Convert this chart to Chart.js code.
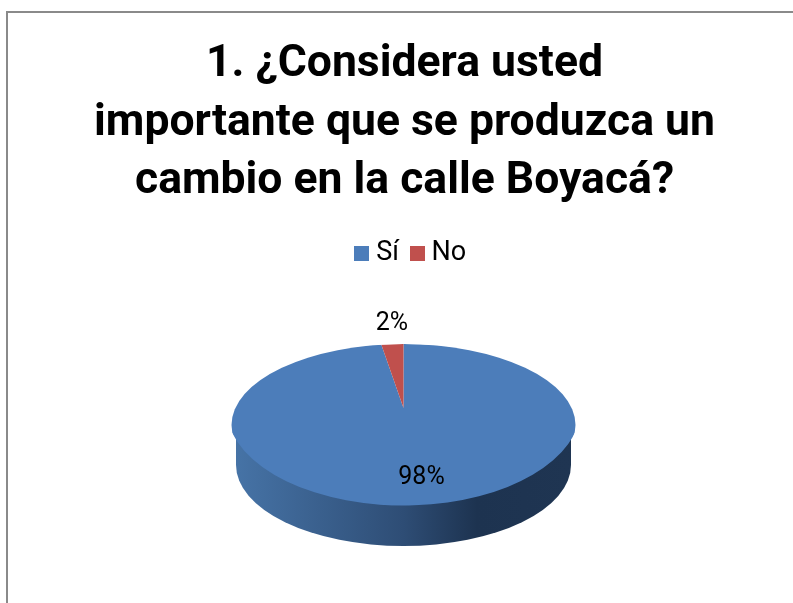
<!DOCTYPE html>
<html>
<head>
<meta charset="utf-8">
<style>
html, body { margin: 0; padding: 0; background: #fff; overflow: hidden; }
#box { position: absolute; left: 6px; top: 11px; width: 820px; height: 620px; border: 2px solid #8a8a8a; box-sizing: border-box; }
canvas { position: absolute; left: 0; top: 0; }
</style>
<script src="https://cdn.jsdelivr.net/npm/chart.js@4"></script>
</head>
<body>
<div id="box"></div>
<canvas id="pie" width="809" height="603"></canvas>
<script>
const categories = ['Sí', 'No'];
const shares = [98, 2];
const sliceColors = ['#4c7dba', '#c0504d'];
const titleLines = ['1. ¿Considera usted', 'importante que se produzca un', 'cambio en la calle Boyacá?'];

const FONT = 'Roboto';

// where the tilted disc lands on the page
const DISC_X = 403.5;
const DISC_RX = 172;
const DISC_RY = 81;
const DISC_Y = 425;
// apex sits above the ellipse centre because of the perspective in the original
const APEX_Y = 408;
const FAR_RY = 64;
const NEAR_RY = 97.5;

function swatch(color) {
  let c = document.createElement('canvas');
  c.width = 15;
  c.height = 15;
  let g = c.getContext('2d');
  g.fillStyle = color;
  g.fillRect(0, 0, 15, 15);
  return c;
}

function drawSide(ctx) {
  let grad = ctx.createLinearGradient(236, 0, 571, 0);
  grad.addColorStop(0, '#4673a6');
  grad.addColorStop(0.5, '#2e4d75');
  grad.addColorStop(0.72, '#1d3350');
  grad.addColorStop(1, '#1f3552');
  ctx.save();
  ctx.fillStyle = grad;
  ctx.beginPath();
  ctx.ellipse(DISC_X, 465, 167.5, DISC_RY, 0, 0, Math.PI);
  ctx.lineTo(236, DISC_Y);
  ctx.lineTo(571, DISC_Y);
  ctx.closePath();
  ctx.fill();
  ctx.restore();
}

// one half of the pie, squashed by ry
function drawHalf(chart, arc, top, ry) {
  let ctx = chart.ctx;
  ctx.save();
  ctx.beginPath();
  ctx.ellipse(DISC_X, DISC_Y, DISC_RX, DISC_RY, 0, 0, Math.PI * 2);
  ctx.clip();
  ctx.beginPath();
  if (top) ctx.rect(0, 0, chart.width, APEX_Y);
  else ctx.rect(0, APEX_Y, chart.width, chart.height);
  ctx.clip();
  let sx = 1.03 * DISC_RX / arc.outerRadius;
  ctx.translate(DISC_X, APEX_Y);
  ctx.scale(sx, ry / arc.outerRadius);
  ctx.translate(-arc.x, -arc.y);
  chart.getDatasetMeta(0).controller.draw();
  ctx.restore();
}

const tiltPlugin = {
  id: 'tilt',
  afterLayout(chart) {
    // legend sits a little right of the title in the original
    chart.legend.left += 9;
    chart.legend.right += 9;
  },
  beforeDatasetsDraw(chart) {
    let arc = chart.getDatasetMeta(0).data[0];
    drawSide(chart.ctx);
    drawHalf(chart, arc, true, FAR_RY);
    drawHalf(chart, arc, false, NEAR_RY);

    let ctx = chart.ctx;
    ctx.save();
    ctx.fillStyle = '#000';
    ctx.font = '25px "' + FONT + '"';
    ctx.textAlign = 'center';
    ctx.textBaseline = 'middle';
    ctx.fillText(shares[0] + '%', 421.5, 478);
    ctx.fillText(shares[1] + '%', 392, 324);
    ctx.restore();
    return false;
  }
};

new Chart(document.getElementById('pie'), {
  type: 'pie',
  data: {
    labels: categories,
    datasets: [{
      data: shares,
      backgroundColor: sliceColors,
      borderWidth: 0
    }]
  },
  options: {
    responsive: false,
    animation: false,
    plugins: {
      title: {
        display: true,
        text: titleLines,
        color: '#000',
        font: { family: FONT, size: 44.5, weight: 'bold', lineHeight: 1.315 },
        padding: { top: 36, bottom: 11 }
      },
      legend: {
        display: true,
        position: 'top',
        labels: {
          color: '#000',
          font: { family: FONT, size: 27 },
          boxWidth: 2,
          boxHeight: 15,
          padding: 17,
          usePointStyle: true,
          generateLabels(chart) {
            return categories.map((name, i) => ({
              text: name,
              index: i,
              fontColor: '#000',
              pointStyle: swatch(sliceColors[i])
            }));
          }
        }
      },
      tooltip: { enabled: false }
    }
  },
  plugins: [tiltPlugin]
});
</script>
</body>
</html>
